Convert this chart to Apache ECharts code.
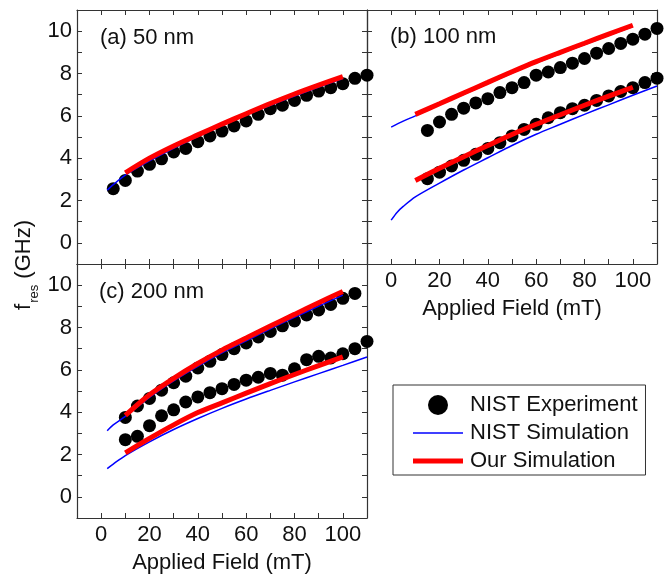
<!DOCTYPE html>
<html lang="en">
<head>
<meta charset="UTF-8">
<title>f_res vs applied field</title>
<script src="https://cdn.jsdelivr.net/npm/echarts@6/dist/echarts.min.js"></script>
<style>
  html, body { margin: 0; padding: 0; background: #fff; }
  #main { width: 666px; height: 578px; }
</style>
</head>
<body>
<div id="main"></div>
<script type="text/javascript">
// ---- data (field in mT, frequency in GHz) ----
// (a) 50 nm
var aExpField = [5, 10, 15, 20, 25, 30, 35, 40, 45, 50, 55, 60, 65, 70, 75, 80, 85, 90, 95, 100, 105, 110];
var aExp = [2.56, 2.95, 3.39, 3.71, 3.97, 4.29, 4.46, 4.78, 5.05, 5.28, 5.52, 5.76, 6.07, 6.34, 6.5, 6.73, 6.97, 7.17, 7.33, 7.52, 7.77, 7.92];
var aNistField = [2.5, 5, 10, 20, 30, 40, 50, 60, 70, 80, 90, 100];
var aNist = [2.49, 2.75, 3.2, 3.87, 4.47, 5.02, 5.54, 6.04, 6.5, 6.94, 7.36, 7.76];
var aOurField = [10, 20, 30, 40, 50, 60, 70, 80, 90, 100];
var aOur = [3.31, 4.0, 4.58, 5.1, 5.61, 6.1, 6.58, 7.03, 7.45, 7.85];

// (b) 100 nm
var bExpField = [15, 20, 25, 30, 35, 40, 45, 50, 55, 60, 65, 70, 75, 80, 85, 90, 95, 100, 105, 110];
var bExpUpper = [5.31, 5.71, 6.07, 6.36, 6.61, 6.81, 7.1, 7.33, 7.57, 7.92, 8.07, 8.28, 8.49, 8.71, 8.96, 9.18, 9.42, 9.62, 9.86, 10.13];
var bExpLower = [3.03, 3.34, 3.63, 3.9, 4.18, 4.46, 4.73, 5.05, 5.36, 5.6, 5.91, 6.15, 6.34, 6.5, 6.73, 6.94, 7.15, 7.33, 7.57, 7.78];
var bNistUpperField = [0, 5, 10, 20, 30, 40, 50, 60, 70, 80, 90, 100];
var bNistUpper = [5.47, 5.75, 6.0, 6.52, 7.02, 7.52, 8.02, 8.5, 8.94, 9.37, 9.8, 10.22];
var bNistLowerField = [0, 2.5, 5, 10, 20, 30, 40, 50, 60, 70, 80, 90, 100, 110];
var bNistLower = [1.07, 1.45, 1.72, 2.17, 2.82, 3.44, 4.02, 4.6, 5.13, 5.6, 6.07, 6.52, 6.97, 7.41];
var bOurField = [10, 20, 30, 40, 50, 60, 70, 80, 90, 100];
var bOurUpper = [6.07, 6.57, 7.08, 7.58, 8.08, 8.56, 9.0, 9.43, 9.86, 10.28];
var bOurLower = [2.95, 3.52, 4.07, 4.6, 5.12, 5.6, 6.05, 6.5, 6.93, 7.35];

// (c) 200 nm
var cExpUpperField = [10, 15, 20, 25, 30, 35, 40, 45, 50, 55, 60, 65, 70, 75, 80, 85, 90, 95, 100, 105];
var cExpUpper = [3.75, 4.29, 4.65, 5.04, 5.39, 5.7, 6.09, 6.4, 6.72, 7.0, 7.27, 7.55, 7.81, 8.08, 8.31, 8.59, 8.83, 9.09, 9.38, 9.61];
var cExpLowerField = [10, 15, 20, 25, 30, 35, 40, 45, 50, 55, 60, 65, 70, 75, 80, 85, 90, 95, 100, 105, 110];
var cExpLower = [2.7, 2.86, 3.36, 3.83, 4.11, 4.48, 4.72, 4.92, 5.11, 5.31, 5.51, 5.65, 5.83, 5.75, 6.05, 6.48, 6.64, 6.56, 6.76, 7.0, 7.34];
var cNistUpperField = [2.5, 5, 10, 20, 30, 40, 50, 60, 70, 80, 90, 100];
var cNistUpper = [3.12, 3.4, 3.8, 4.7, 5.48, 6.17, 6.8, 7.37, 7.94, 8.48, 9.01, 9.53];
var cNistLowerField = [2.5, 5, 10, 20, 30, 40, 50, 60, 70, 80, 90, 100, 110];
var cNistLower = [1.33, 1.55, 1.95, 2.6, 3.18, 3.7, 4.18, 4.62, 5.03, 5.43, 5.82, 6.21, 6.61];
var cOurField = [10, 20, 30, 40, 50, 60, 70, 80, 90, 100];
var cOurUpper = [3.85, 4.82, 5.6, 6.3, 6.93, 7.5, 8.07, 8.62, 9.17, 9.7];
var cOurLower = [2.08, 2.76, 3.4, 3.98, 4.44, 4.9, 5.35, 5.78, 6.2, 6.61];

var EXP = 'NIST Experiment', NIST = 'NIST Simulation', OUR = 'Our Simulation';
var FONT = 'Liberation Sans, Arial, sans-serif';
var INK = '#333';

function zip(xs, ys) {
    return xs.map(function (x, i) { return [x, ys[i]]; });
}

var chart = echarts.init(document.getElementById('main'), null, {renderer: 'canvas'});

var grids = [
    {left: 77, top: 10, width: 290, height: 254},   // (a)
    {left: 367, top: 10, width: 290, height: 254},  // (b)
    {left: 77, top: 264, width: 290, height: 254}   // (c)
];

// which panels get tick labels on the bottom / left side
var xLabels = [false, true, true];
var yLabels = [true, false, true];

var xAxes = [], yAxes = [];
grids.forEach(function (g, i) {
    ['bottom', 'top'].forEach(function (pos) {
        var main = pos === 'bottom' && xLabels[i];
        xAxes.push({
            gridIndex: i, type: 'value', position: pos,
            min: -10, max: 110, interval: 10,
            name: main ? 'Applied Field (mT)' : '',
            nameLocation: 'middle', nameGap: 34,
            nameTextStyle: {fontFamily: FONT, fontSize: 22, color: '#111'},
            axisLine: {show: true, onZero: false, lineStyle: {color: INK, width: 1.2}},
            axisTick: {show: true, inside: true, length: 5, lineStyle: {color: INK}},
            axisLabel: {
                show: main, margin: 6, fontFamily: FONT, fontSize: 22, color: '#111',
                formatter: function (v) { return (v >= 0 && v <= 100 && v % 20 === 0) ? v : ''; }
            },
            splitLine: {show: false}
        });
    });
    ['left', 'right'].forEach(function (pos) {
        var main = pos === 'left' && yLabels[i];
        yAxes.push({
            gridIndex: i, type: 'value', position: pos,
            min: -1, max: 11, interval: 1,
            axisLine: {show: true, onZero: false, lineStyle: {color: INK, width: 1.2}},
            axisTick: {show: true, inside: true, length: 5, lineStyle: {color: INK}},
            axisLabel: {
                show: main, margin: 5, fontFamily: FONT, fontSize: 22, color: '#111',
                formatter: function (v) { return (v >= 0 && v % 2 === 0) ? v : ''; }
            },
            splitLine: {show: false}
        });
    });
});

function dots(i, xs, ys) {
    return {
        name: EXP, type: 'scatter', xAxisIndex: 2 * i, yAxisIndex: 2 * i,
        symbol: 'circle', symbolSize: 13, itemStyle: {color: '#000', opacity: 1},
        data: zip(xs, ys), z: 2
    };
}
function curve(i, name, xs, ys) {
    var ours = name === OUR;
    return {
        name: name, type: 'line', xAxisIndex: 2 * i, yAxisIndex: 2 * i,
        symbol: 'none', smooth: 0.3,
        lineStyle: {color: ours ? '#ff0000' : '#0000ff', width: ours ? 5 : 1.5},
        itemStyle: {color: ours ? '#ff0000' : '#0000ff'},
        data: zip(xs, ys), z: ours ? 4 : 3
    };
}

var series = [
    dots(0, aExpField, aExp),
    curve(0, NIST, aNistField, aNist),
    curve(0, OUR, aOurField, aOur),

    dots(1, bExpField, bExpUpper),
    dots(1, bExpField, bExpLower),
    curve(1, NIST, bNistUpperField, bNistUpper),
    curve(1, NIST, bNistLowerField, bNistLower),
    curve(1, OUR, bOurField, bOurUpper),
    curve(1, OUR, bOurField, bOurLower),

    dots(2, cExpUpperField, cExpUpper),
    dots(2, cExpLowerField, cExpLower),
    curve(2, NIST, cNistUpperField, cNistUpper),
    curve(2, NIST, cNistLowerField, cNistLower),
    curve(2, OUR, cOurField, cOurUpper),
    curve(2, OUR, cOurField, cOurLower)
];

function panelLabel(text, x, y) {
    return {
        type: 'text', x: x, y: y,
        style: {text: text, fontFamily: FONT, fontSize: 22, fill: '#111', verticalAlign: 'middle'}
    };
}

var option = {
    animation: false,
    backgroundColor: '#fff',
    grid: grids,
    xAxis: xAxes,
    yAxis: yAxes,
    series: series,
    legend: {
        data: [
            {name: EXP, icon: 'circle'},
            {name: NIST, icon: 'path://M0,0H50V1.5H0Z'},
            {name: OUR, icon: 'path://M0,0H50V5H0Z'}
        ],
        orient: 'vertical', left: 393, top: 385,
        itemWidth: 50, itemHeight: 20, itemGap: 6,
        padding: [9, 8, 3, 20],
        borderColor: INK, borderWidth: 1,
        textStyle: {fontFamily: FONT, fontSize: 22, color: '#111', padding: [0, 0, 0, 2]},
        selectedMode: false
    },
    graphic: [
        panelLabel('(a) 50 nm', 100, 38),
        panelLabel('(b) 100 nm', 390, 37),
        panelLabel('(c) 200 nm', 99, 292),
        {
            type: 'text', x: 27, y: 265, rotation: Math.PI / 2,
            style: {
                text: '{f|f}{s|res}{f| (GHz)}',
                align: 'center', verticalAlign: 'middle',
                rich: {
                    f: {fontFamily: FONT, fontSize: 22, fill: '#111', verticalAlign: 'top'},
                    s: {fontFamily: FONT, fontSize: 13, fill: '#111', verticalAlign: 'top', padding: [15, 0, 0, 1]}
                }
            }
        }
    ]
};

chart.setOption(option);
</script>
</body>
</html>
